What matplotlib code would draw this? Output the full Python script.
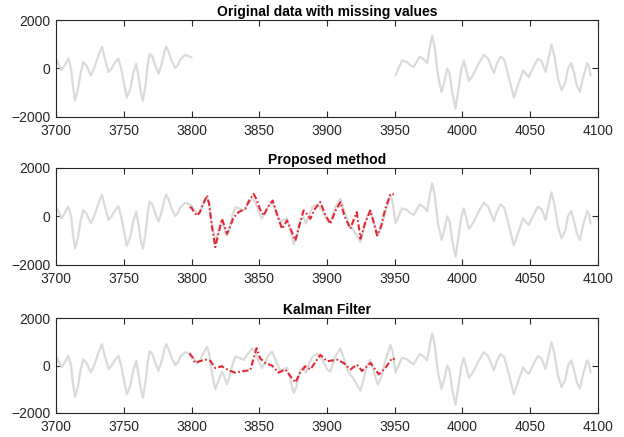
import numpy as np
import matplotlib
matplotlib.use("Agg")
import matplotlib.pyplot as plt

plt.rcParams['font.family'] = ['Liberation Sans', 'DejaVu Sans']

# True signal (gray)
true_x = [3700, 3702, 3704, 3706.5, 3709, 3711, 3712.5, 3714, 3716, 3718, 3720, 3722.5,
          3725.6, 3728, 3731, 3733.8, 3736, 3738.7, 3741, 3743.5, 3746, 3748, 3750, 3752.2,
          3754.5, 3757, 3759.1, 3761, 3762.5, 3764.1, 3766, 3767.5, 3769, 3771, 3773, 3775.6,
          3778, 3780, 3781.3, 3783, 3785, 3788, 3790, 3792, 3795.4, 3798.5,
          3800, 3802, 3804, 3806, 3808.5, 3811.4, 3813, 3815, 3817.5, 3819.5, 3822.4, 3824,
          3826.1, 3828, 3830, 3832.3, 3835, 3838.4, 3841, 3844.6, 3847, 3849.5, 3851.9, 3854,
          3856.5, 3859.4, 3862, 3865.6, 3868, 3870.5, 3873, 3875.4, 3877.5, 3880, 3882.7, 3884.5,
          3887, 3889.5, 3893, 3897, 3900, 3902.5, 3906, 3909.9, 3913, 3916, 3919, 3922, 3924.7,
          3927, 3929.5, 3932.1, 3934.5, 3937.5, 3940, 3943, 3946.9, 3948.5,
          3950.6, 3952, 3955.5, 3959.2, 3962, 3964, 3966, 3968.5, 3971, 3974, 3976, 3977.7,
          3979.5, 3982, 3984.6, 3986.5, 3988.8, 3990.5, 3992.5, 3994.9, 3997, 3999, 4001, 4003,
          4004.8, 4007, 4009.7, 4012, 4015.8, 4019, 4023.2, 4025.5, 4028.2, 4031, 4034, 4038,
          4041, 4044.9, 4047, 4049.1, 4052, 4055.7, 4058.5, 4061.4, 4063.5, 4065.8, 4068, 4070.5,
          4073.2, 4076, 4078, 4080.4, 4082.5, 4084.5, 4086.8, 4089, 4092.2, 4093.5, 4094.7]
true_y = [380, 150, -80, 150, 410, 0, -800, -1320, -900, -200, 260, 100,
          -290, 0, 500, 900, 400, -150, 0, 250, 410, 0, -600, -1210,
          -900, -200, 190, -400, -1000, -1340, -700, 100, 600, 500, 150, -220,
          200, 700, 900, 700, 350, 10, 150, 400, 560, 490,
          450, 250, 100, 200, 500, 790, 500, -300, -1000, -700, -250, -450,
          -790, -500, 0, 380, 330, 240, 450, 720, 600, 200, -100, 100,
          400, 585, 250, -230, -150, -100, -600, -1150, -900, -200, -35, -300,
          100, 400, 500, 200, -150, -250, 350, 720, 200, -300, -500, -800, -1060,
          -600, 0, 240, -250, -800, -500, 200, 860, 600,
          -290, -100, 330, 260, 120, 55, 250, 490, 400, 220, 900, 1360,
          900, -300, -975, -600, 0, -200, -1000, -1660, -900, -100, 330, -100,
          -520, -350, -80, 200, 560, 400, -190, 200, 490, 350, -300, -1210,
          -700, -80, -250, -355, 0, 400, 300, -150, 400, 990, 500, -400,
          -905, -600, 0, 220, -200, -700, -975, -400, 220, 100, -290]

# Missing segment in the original data
gap_start = 3800
gap_end = 3950

# Proposed method reconstruction (red)
prop_x = [3798.5, 3800, 3802, 3804, 3806, 3808.5, 3811.4, 3813, 3815, 3817.5, 3819.5, 3822.4,
          3824, 3826.1, 3828, 3831, 3834.7, 3839.6, 3842.5, 3845.8, 3848, 3850.5, 3853.2,
          3856.5, 3859.9, 3863, 3866.8, 3870.5, 3873, 3876.6, 3879.5, 3882.7, 3885, 3887.7,
          3891, 3895.1, 3898.5, 3902.5, 3906, 3909.9, 3913, 3917.3, 3920, 3922, 3924.7, 3928,
          3932, 3934.5, 3937, 3940, 3943, 3946.9, 3949.5]
prop_y = [380, 350, 150, 30, 150, 500, 860, 500, -400, -1270, -800, -100,
          -350, -720, -500, -50, 170, 310, 650, 925, 700, 300, 30,
          400, 650, 100, -515, -170, -500, -1000, -400, 240, 100, -100,
          300, 585, 100, -310, 200, 585, 0, -515, -100, 170, -925, -300,
          240, -250, -790, -400, 300, 925, 900]

# Kalman filter reconstruction (red)
kal_x = [3798.5, 3800.5, 3802.7, 3806, 3810.1, 3813.8, 3817.5, 3822.4, 3827.3, 3832.3, 3838.4,
         3843.3, 3848, 3850.7, 3854.4, 3859.4, 3864.3, 3869.2, 3876.6, 3880.3, 3884, 3887.7,
         3895.1, 3900, 3907.4, 3912.3, 3917.3, 3922.2, 3925.9, 3932.1, 3938.3, 3943.2, 3948.2,
         3950]
kal_y = [520, 350, 110, 180, 250, 200, -100, -30, -200, -300, -230,
         -200, 730, 300, 110, 0, -300, -165, -715, -300, -30, -165,
         450, 180, 250, 110, -165, 40, -230, 110, -370, -100, 320,
         250]

titles = ['Original data with missing values', 'Proposed method', 'Kalman Filter']
x_ticks = [3700, 3750, 3800, 3850, 3900, 3950, 4000, 4050, 4100]
y_ticks = [-2000, 0, 2000]

gray = '#dadada'
red = '#e62630'
dash = (3.0, 1.2, 0.8, 1.2)

fig = plt.figure(figsize=(6.24, 4.37), dpi=100)
lefts = 0.09
width = 0.868
boxes = [(0.733, 0.221), (0.394, 0.222), (0.055, 0.217)]
axes = [fig.add_axes([lefts, b, width, h]) for b, h in boxes]

tx = np.array(true_x, dtype=float)
ty = np.array(true_y, dtype=float)
ty_missing = ty.copy()
ty_missing[(tx > gap_start) & (tx < gap_end)] = np.nan

kw_gray = dict(color=gray, lw=1.6, solid_joinstyle='round', solid_capstyle='round')
kw_red = dict(color=red, lw=1.5, ls=(0, dash), dash_joinstyle='round')

axes[0].plot(tx, ty_missing, **kw_gray)
axes[1].plot(tx, ty, **kw_gray)
axes[1].plot(prop_x, prop_y, **kw_red)
axes[2].plot(tx, ty, **kw_gray)
axes[2].plot(kal_x, kal_y, **kw_red)

for ax, t in zip(axes, titles):
    ax.set_xlim(3700, 4100)
    ax.set_ylim(-2000, 2000)
    ax.set_xticks(x_ticks)
    ax.set_yticks(y_ticks)
    ax.tick_params(direction='in', top=True, right=True, length=4, width=0.8,
                   labelsize=10, colors='#262626')
    ax.tick_params(axis='x', pad=5)
    ax.tick_params(axis='y', pad=4)
    for s in ax.spines.values():
        s.set_color('#262626')
        s.set_linewidth(0.8)
    ax.set_title(t, fontsize=10, fontweight='bold', pad=3)

fig.savefig('out.png', dpi=100)
